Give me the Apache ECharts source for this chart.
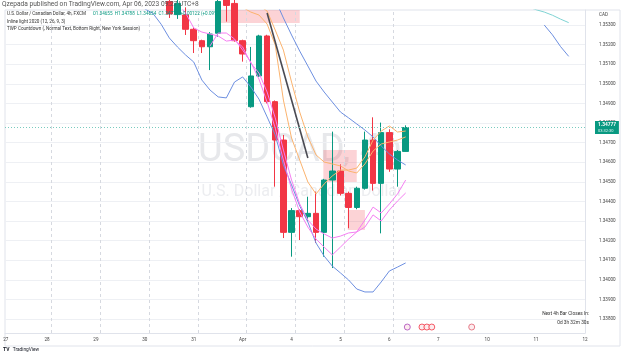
<!DOCTYPE html>
<html>
<head>
<meta charset="utf-8">
<script src="https://cdn.jsdelivr.net/npm/echarts@6/dist/echarts.min.js"></script>
<style>
  html, body { margin: 0; padding: 0; background: #fff; }
  #main { width: 625px; height: 355px; }
</style>
</head>
<body>
<div id="main"></div>
<script>
// USDCAD 4h, FXCM - bars are counted from the first 4h bar of Mar 27
var dayLabels = ['27', '28', '29', '30', '31', 'Apr', '4', '5', '6', '7', '10', '11', '12'];
var barsPerDay = 6;
var yTicks = [1.338, 1.339, 1.340, 1.341, 1.342, 1.343, 1.344, 1.345, 1.346, 1.347, 1.348, 1.349, 1.350, 1.351, 1.352, 1.353];

var firstBar = 21;
var opens  = [1.35420, 1.35353, 1.35351, 1.35278, 1.35220, 1.35189, 1.35258, 1.35440, 1.35410, 1.35220, 1.34883, 1.35040, 1.35244, 1.34909, 1.34713, 1.34242, 1.34353, 1.34322, 1.34339, 1.34242, 1.34509, 1.34555, 1.34441, 1.34369, 1.34467, 1.34713, 1.34492, 1.34751, 1.34565, 1.34655];
var highs  = [1.35430, 1.35440, 1.35390, 1.35290, 1.35225, 1.35264, 1.35450, 1.35470, 1.35430, 1.35225, 1.35188, 1.35250, 1.35250, 1.34915, 1.34739, 1.34366, 1.34360, 1.34424, 1.34450, 1.34515, 1.34756, 1.34589, 1.34450, 1.34475, 1.34756, 1.34829, 1.34802, 1.34768, 1.34662, 1.34788];
var lows   = [1.35336, 1.35331, 1.35249, 1.35157, 1.35157, 1.35070, 1.35240, 1.35317, 1.35215, 1.35113, 1.34878, 1.35035, 1.34900, 1.34475, 1.34213, 1.34118, 1.34203, 1.34300, 1.34188, 1.34118, 1.34060, 1.34430, 1.34263, 1.34360, 1.34460, 1.34455, 1.34237, 1.34551, 1.34475, 1.34654];
var closes = [1.35356, 1.35410, 1.35278, 1.35220, 1.35189, 1.35254, 1.35420, 1.35400, 1.35220, 1.35152, 1.35040, 1.35244, 1.34909, 1.34713, 1.34242, 1.34353, 1.34322, 1.34339, 1.34242, 1.34509, 1.34555, 1.34441, 1.34369, 1.34467, 1.34713, 1.34492, 1.34751, 1.34565, 1.34655, 1.34777];

// indicator lines, each with the bar it starts on
var lowerBandStart = 18;
var lowerBand = [1.35382, 1.35359, 1.35304, 1.35234, 1.35188, 1.35147, 1.35111, 1.35019, 1.34968, 1.34933, 1.34928, 1.35009, 1.35035, 1.34984, 1.34922, 1.34831, 1.34739, 1.34586, 1.34484, 1.34377, 1.34295, 1.34188, 1.34121, 1.34070, 1.34035, 1.33999, 1.33953, 1.33938, 1.33938, 1.33989, 1.34045, 1.34065, 1.34086];
var upperBandStart = 33;
var upperBand = [1.35504, 1.35428, 1.35336, 1.35249, 1.35167, 1.35091, 1.35014, 1.34958, 1.34907, 1.34856, 1.34826, 1.34795, 1.34764, 1.34729, 1.34683, 1.34642, 1.34611, 1.34586];
var fastStart = 30;
var fastLine = [1.35390, 1.35366, 1.35351, 1.35305, 1.35198, 1.34917, 1.34723, 1.34611, 1.34499, 1.34438, 1.34489, 1.34530, 1.34560, 1.34560, 1.34570, 1.34627, 1.34713, 1.34759, 1.34785, 1.34754, 1.34759];
var slowStart = 32;
var slowLine = [1.35400, 1.35371, 1.35274, 1.35172, 1.35009, 1.34856, 1.34729, 1.34637, 1.34601, 1.34591, 1.34581, 1.34555, 1.34545, 1.34591, 1.34657, 1.34693, 1.34703, 1.34713, 1.34729];
var pinkAStart = 22;
var pinkA = [1.35412, 1.35361, 1.35285, 1.35264, 1.35254, 1.35244, 1.35218, 1.35223, 1.35188, 1.35106, 1.35055, 1.34958, 1.34826, 1.34662, 1.34509, 1.34387, 1.34305, 1.34259, 1.34234, 1.34213, 1.34223, 1.34239, 1.34244, 1.34305, 1.34371, 1.34341, 1.34387, 1.34438, 1.34509];
var pinkBStart = 26;
var pinkB = [1.35193, 1.35259, 1.35259, 1.35229, 1.35172, 1.35111, 1.35024, 1.34907, 1.34774, 1.34611, 1.34463, 1.34346, 1.34269, 1.34208, 1.34167, 1.34127, 1.34167, 1.34208, 1.34244, 1.34269, 1.34331, 1.34300, 1.34356, 1.34402, 1.34443];
var tealStart = 65;
var tealLine = [1.35392, 1.35378, 1.35366, 1.35350, 1.35330, 1.35312];
var blueFutStart = 67;
var blueFut = [1.35300, 1.35250, 1.35190, 1.35140];

var trendLine = [[33, 1.35361], [38, 1.34621]];
// zones: [bar from, price low, bar to, price high]
var zones = [[27.2, 1.35310, 37, 1.35376], [39.9, 1.34499, 44, 1.34662], [42.9, 1.34254, 45, 1.34356]];

var eventBars = [50.2, 52.0, 52.6, 53.2, 58.1];
var eventColors = ['#ab47bc', '#f23645', '#f23645', '#f23645', '#e06070'];
var eventLevel = 1.33759;

var UP = '#089981', DOWN = '#f23645';
var lastClose = closes[closes.length - 1];

function fromStart(start, arr) {
    return arr.map(function (v, k) { return [start + k, v]; });
}
var candleData = opens.map(function (o, k) {
    return [firstBar + k, o, closes[k], lows[k], highs[k]];
});
var xTicks = [0.95];
for (var d = 1; d < dayLabels.length; d++) xTicks.push(d * barsPerDay);
var sessionBreaks = [];
for (var s = 1; s <= 8; s++) sessionBreaks.push({ xAxis: s * barsPerDay + 0.5 });

function lineSeries(data, color, width) {
    return {
        type: 'line', data: data, showSymbol: false, z: 4, silent: true,
        lineStyle: { color: color, width: width || 1 }
    };
}

var myChart = echarts.init(document.getElementById('main'));
var font = 'Roboto, sans-serif';

// last price line + price/countdown box on the scale
var lastPriceLine = lineSeries(fromStart(pinkBStart, pinkB), '#f57ef2');
lastPriceLine.markLine = {
    silent: true, symbol: 'none', z: 6, precision: 5,
    lineStyle: { type: [1, 2], color: '#79cbbf', width: 1 },
    label: {
        show: true, position: 'end', distance: 10,
        backgroundColor: UP, padding: [1, 3],
        formatter: '{a|' + lastClose.toFixed(5) + '}\n{b|03:32:30}',
        rich: {
            a: { fontSize: 4.8, color: '#fff', fontWeight: 'bold', fontFamily: font, lineHeight: 6 },
            b: { fontSize: 4, color: '#e0f5f1', fontFamily: font, lineHeight: 5 }
        }
    },
    data: [{ yAxis: lastClose }]
};

var option = {
    animation: false,
    backgroundColor: '#fff',
    grid: { left: 5, right: 40, top: 10, bottom: 22 },
    xAxis: {
        type: 'value', min: 0.846, max: 72,
        axisLine: { show: true, lineStyle: { color: '#e0e3eb' } },
        axisTick: { show: false, customValues: xTicks },
        splitLine: { show: false },
        axisLabel: {
            customValues: xTicks, fontSize: 4.6, color: '#444', fontFamily: font, margin: 4,
            formatter: function (v) { return dayLabels[Math.round(v / barsPerDay)]; }
        }
    },
    yAxis: {
        type: 'value', position: 'right', min: 1.337286, max: 1.353765, scale: true,
        axisLine: { show: true, lineStyle: { color: '#e0e3eb' } },
        axisTick: { show: false, customValues: yTicks },
        splitLine: { show: true, lineStyle: { color: '#eef0f4' } },
        axisLabel: {
            customValues: yTicks, fontSize: 4.6, color: '#444', fontFamily: font, margin: 14,
            formatter: function (v) { return v.toFixed(5); }
        }
    },
    series: [
        {
            type: 'candlestick', data: candleData, encode: { x: 0, y: [1, 2, 3, 4] },
            barWidth: 6, z: 3, silent: true,
            itemStyle: { color: UP, color0: DOWN, borderColor: UP, borderColor0: DOWN, borderWidth: 1 },
            markArea: {
                silent: true, z: 1,
                itemStyle: { color: 'rgba(242,54,69,0.22)' },
                data: zones.map(function (zn) { return [{ coord: [zn[0], zn[1]] }, { coord: [zn[2], zn[3]] }]; })
            }
        },
        lineSeries(fromStart(lowerBandStart, lowerBand), '#6d8fe0'),
        lineSeries(fromStart(upperBandStart, upperBand), '#6d8fe0'),
        lineSeries(fromStart(blueFutStart, blueFut), '#6d8fe0'),
        lineSeries(fromStart(tealStart, tealLine), '#7fd3d3'),
        lineSeries(fromStart(fastStart, fastLine), '#fbb36e'),
        lineSeries(fromStart(slowStart, slowLine), '#fbb36e'),
        lineSeries(fromStart(pinkAStart, pinkA), '#f57ef2'),
        lastPriceLine,
        {
            type: 'line', data: trendLine, showSymbol: false, z: 5, silent: true,
            lineStyle: { color: '#4a4a52', width: 1.6 },
            markLine: {
                silent: true, symbol: 'none', z: 1, label: { show: false },
                lineStyle: { type: [3, 3], color: '#d6d9e0', width: 1 },
                data: sessionBreaks
            }
        },
        {
            type: 'scatter', z: 6, silent: true, symbol: 'circle', symbolSize: 6,
            data: eventBars.map(function (b, k) {
                return { value: [b, eventLevel], itemStyle: { color: '#fde7ea', borderColor: eventColors[k], borderWidth: 1 } };
            })
        }
    ],
    graphic: [
        { type: 'rect', z: 0, silent: true, shape: { x: 5, y: 10, width: 615, height: 336 }, style: { fill: null, stroke: '#e0e3eb', lineWidth: 1 } },
        { type: 'text', z: 0, silent: true, x: 300, y: 151, style: { text: 'USDCAD, 4h', fill: '#e7e8eb', font: '38px Roboto, sans-serif', align: 'center', verticalAlign: 'middle' } },
        { type: 'text', z: 0, silent: true, x: 302, y: 192, style: { text: 'U.S. Dollar / Canadian Dollar', fill: '#ecedf0', font: '16px Roboto, sans-serif', align: 'center', verticalAlign: 'middle' } },
        { type: 'text', z: 10, silent: true, x: 2, y: 4, style: { text: 'Qzepada published on TradingView.com, Apr 06, 2023 09:27 UTC+8', fill: '#555', font: '6.6px Roboto, sans-serif', verticalAlign: 'middle' } },
        {
            type: 'text', z: 10, silent: true, x: 7, y: 14,
            style: {
                text: '{n|U.S. Dollar / Canadian Dollar, 4h, FXCM}  {v|O1.34655  H1.34788  L1.34654  C1.34777  +0.00122 (+0.09%)}',
                verticalAlign: 'middle',
                rich: {
                    n: { fontSize: 4.6, fill: '#333', fontFamily: font },
                    v: { fontSize: 4.6, fill: UP, fontFamily: font }
                }
            }
        },
        { type: 'text', z: 10, silent: true, x: 7, y: 21.5, style: { text: 'Inline light 2020 (12, 26, 9, 3)', fill: '#333', font: '4.6px Roboto, sans-serif', verticalAlign: 'middle' } },
        { type: 'text', z: 10, silent: true, x: 7, y: 29, style: { text: 'TWP Countdown (, Normal Text, Bottom Right, New York Session)', fill: '#333', font: '4.6px Roboto, sans-serif', verticalAlign: 'middle' } },
        { type: 'text', z: 10, silent: true, x: 599, y: 15, style: { text: 'CAD', fill: '#444', font: '4.6px Roboto, sans-serif', verticalAlign: 'middle' } },
        { type: 'text', z: 10, silent: true, x: 589, y: 314, style: { text: 'Next 4h Bar Closes In:', fill: '#333', font: '4.8px Roboto, sans-serif', align: 'right', verticalAlign: 'middle' } },
        { type: 'text', z: 10, silent: true, x: 589, y: 322.5, style: { text: '0d 3h 32m 30s', fill: '#333', font: '4.8px Roboto, sans-serif', align: 'right', verticalAlign: 'middle' } },
        {
            type: 'text', z: 10, silent: true, x: 3, y: 350,
            style: {
                text: '{l|TV} {t|TradingView}', verticalAlign: 'middle',
                rich: {
                    l: { fontSize: 5, fontWeight: 'bold', fill: '#131722', fontFamily: font },
                    t: { fontSize: 4.8, fill: '#131722', fontFamily: font }
                }
            }
        }
    ]
};

myChart.setOption(option);
</script>
</body>
</html>
